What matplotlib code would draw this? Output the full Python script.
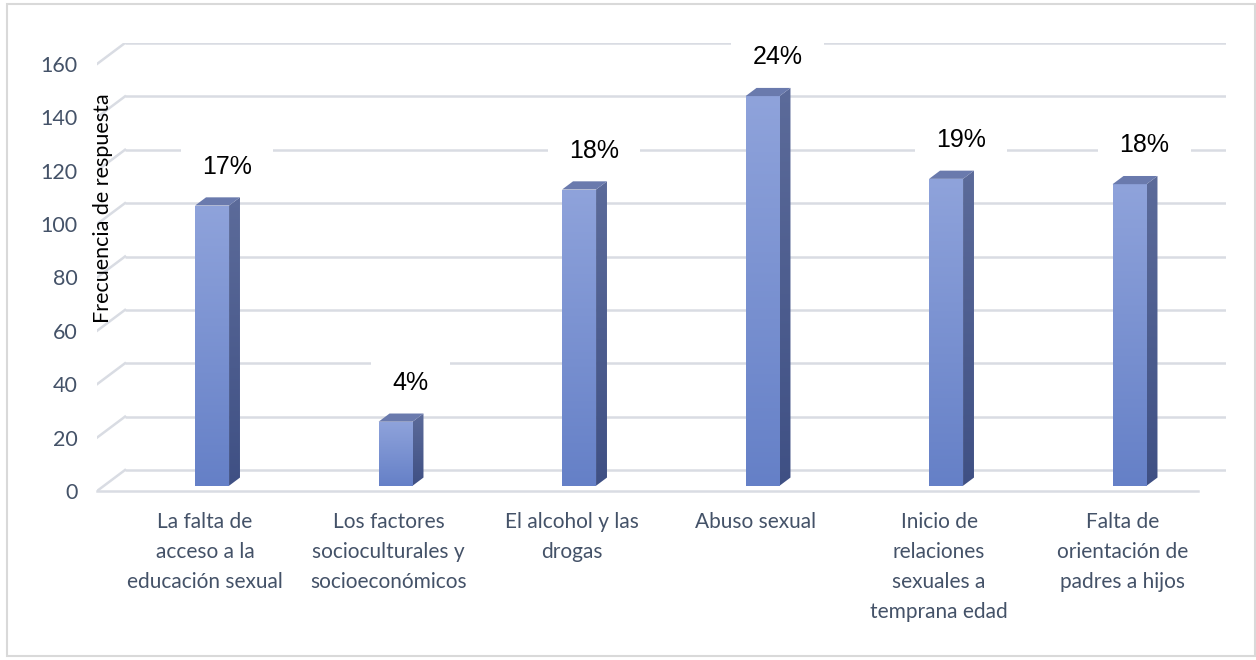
import numpy as np
import matplotlib
matplotlib.use('Agg')
import matplotlib.pyplot as plt
from matplotlib.patches import Polygon, Rectangle
from matplotlib.colors import LinearSegmentedColormap

# Data
categorias = [
    'La falta de\nacceso a la\neducación sexual',
    'Los factores\nsocioculturales y\nsocioeconómicos',
    'El alcohol y las\ndrogas',
    'Abuso sexual',
    'Inicio de\nrelaciones\nsexuales a\ntemprana edad',
    'Falta de\norientación de\npadres a hijos',
]
frecuencias = [105, 24, 111, 146, 115, 113]
yticks = [0, 20, 40, 60, 80, 100, 120, 140, 160]

total = sum(frecuencias)
porcentajes = [round(f / total * 100) for f in frecuencias]

TXT = '#445268'
GRID = '#D9DCE3'

fig = plt.figure(figsize=(12.56, 6.6), dpi=100)
ax = fig.add_axes([97 / 1256, 1 - 491 / 660, (1226 - 97) / 1256, (491 - 43) / 660])
x0, x1 = -0.589, 5.411           # front edge of the floor
DX, DY = 28 / 183.5, 21 / 2.67   # depth vector (data units)
ax.set_xlim(x0, x1 + DX)
ax.set_ylim(0, 160 + DY)
for s in ax.spines.values():
    s.set_visible(False)

# back wall gridlines + side wall diagonals
for v in yticks:
    ax.plot([x0 + DX, x1 + DX], [v + DY, v + DY], color=GRID, lw=1.8, zorder=1,
            solid_capstyle='butt')
    ax.plot([x0, x0 + DX], [v, v + DY], color=GRID, lw=1.8, zorder=1)
# front edge of floor
ax.plot([x0, x1], [0, 0], color=GRID, lw=1.8, zorder=1, clip_on=False)


def shaded(verts, c_top, c_bot, z):
    poly = Polygon(verts, closed=True, facecolor='none', edgecolor='none')
    ax.add_patch(poly)
    xs = [p[0] for p in verts]
    ys = [p[1] for p in verts]
    cmap = LinearSegmentedColormap.from_list('g', [c_bot, c_top])
    grad = np.linspace(0, 1, 256).reshape(-1, 1)
    im = ax.imshow(grad, cmap=cmap, origin='lower', aspect='auto',
                   extent=[min(xs), max(xs), min(ys), max(ys)], zorder=z,
                   interpolation='bilinear')
    im.set_clip_path(poly)


w = 0.185
d0, d1 = 0.25, 0.64
for i, v in enumerate(frecuencias):
    xl = i - w / 2
    xr = i + w / 2
    front = [(xl + d0 * DX, d0 * DY), (xr + d0 * DX, d0 * DY),
             (xr + d0 * DX, v + d0 * DY), (xl + d0 * DX, v + d0 * DY)]
    side = [(xr + d0 * DX, d0 * DY), (xr + d1 * DX, d1 * DY),
            (xr + d1 * DX, v + d1 * DY), (xr + d0 * DX, v + d0 * DY)]
    top = [(xl + d0 * DX, v + d0 * DY), (xr + d0 * DX, v + d0 * DY),
           (xr + d1 * DX, v + d1 * DY), (xl + d1 * DX, v + d1 * DY)]
    shaded(front, '#8FA3DB', '#6580C7', 4)
    shaded(side, '#5C6B9A', '#3F5084', 4)
    ax.add_patch(Polygon(top, closed=True, facecolor='#6A7AAD', edgecolor='none', zorder=4))
    ax.text(i + 0.12, v + 16.5, f'{porcentajes[i]}%', ha='center', va='center',
            fontsize=18, family='Liberation Sans', color='black', zorder=3,
            bbox=dict(boxstyle='square,pad=0.85', facecolor='white', edgecolor='none'))

ax.set_xticks(range(len(categorias)))
ax.set_xticklabels(categorias, fontsize=15, family='Lato', color=TXT, linespacing=1.62)
ax.set_yticks(yticks)
ax.set_yticklabels([str(t) for t in yticks], fontsize=15.5, family='Lato', color=TXT)
ax.tick_params(axis='x', length=0, pad=15)
ax.tick_params(axis='y', length=0, pad=14)

ax.text(-0.555, 106, 'Frecuencia de respuesta', rotation=90, ha='center', va='center',
        fontsize=15.5, family='Lato', color='black', zorder=5)

# chart border
fig.patches.append(Rectangle((7 / 1256, 4 / 660), 1248 / 1256, 652 / 660,
                             transform=fig.transFigure, fill=False,
                             edgecolor='#D9D9D9', lw=1.5))

fig.savefig('out.png', dpi=100)
